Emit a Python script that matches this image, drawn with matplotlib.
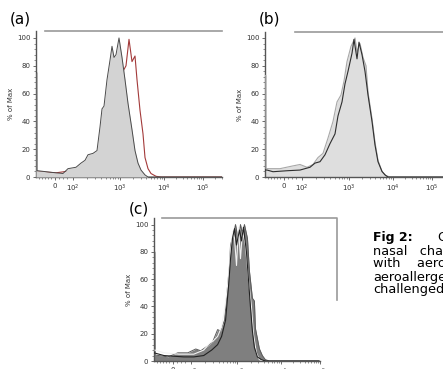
import numpy as np
import matplotlib
matplotlib.use("Agg")
import matplotlib.pyplot as plt
from matplotlib.lines import Line2D

W, H = 443, 369

# ---- data (x = channel offset on the biexponential axis, y = % of Max) ----
tick_pos = [19, 37, 84, 128, 167]
tick_labels = ["0", "10$^2$", "10$^3$", "10$^4$", "10$^5$"]
ytick_vals = [0, 20, 40, 60, 80, 100]

a_fill_x = [0, 0.8, 1, 2, 10, 20, 27, 32, 40, 45, 49, 52, 57, 61, 64, 66, 68, 71, 74, 76, 78, 80,
            83, 86, 89, 92, 96, 99, 102, 105, 109, 112, 186]
a_fill_y = [75, 75, 4.5, 4.5, 3.8, 3, 2.5, 6, 7, 10, 12, 16, 17, 19, 36, 49, 51, 70, 84, 94, 86, 88,
            100, 86, 70, 53, 34, 19, 10, 5, 1.5, 0, 0]
a_red_x = [0, 20, 40, 55, 65, 72, 78, 84, 87, 90, 93, 96, 99, 101, 104, 107, 109, 112, 115, 120, 125, 186]
a_red_y = [4, 3, 5, 10, 20, 35, 50, 65, 76, 80, 99, 83, 87, 70, 48, 31, 14, 6, 2.5, 0.5, 0, 0]

b_fill_x = [0, 0.8, 1, 2, 15, 28, 35, 42, 48, 53, 58, 63, 68, 72, 76, 79, 82, 86, 90, 92, 95, 98,
            101, 103, 107, 110, 113, 117, 121, 125, 178]
b_fill_y = [73, 73, 6, 6, 6, 8, 9, 7, 9, 14, 17, 28, 40, 54, 59, 69, 83, 94, 100, 90, 96, 86,
            80, 61, 42, 25, 12, 4, 1, 0, 0]
b_line_x = [0, 2, 8, 22, 35, 45, 50, 55, 60, 65, 70, 73, 77, 80, 83, 87, 89, 92, 94, 97, 100,
            103, 107, 110, 113, 117, 120, 123, 178]
b_line_y = [5, 5, 3.8, 4.5, 5, 7, 10, 11, 16, 24, 31, 44, 54, 67, 76, 89, 99, 85, 97, 88, 76,
            59, 40, 23, 11, 4, 1.5, 0, 0]

c_fill_x = [0, 0.8, 1, 14, 24, 34, 42, 47, 54, 59, 64, 67, 71, 74, 76, 77, 80, 82, 85, 87, 89,
            91, 94, 96, 99, 101, 102, 106, 109, 112, 116, 166]
c_fill_y = [80, 80, 4.4, 3, 6, 6, 8.8, 7.5, 11, 14, 23, 22, 30, 55, 70, 85, 93, 100, 88, 100, 93,
            100, 90, 66, 46, 44, 24, 9, 4, 1, 0, 0]
c_dark_x = [0, 10, 20, 30, 40, 50, 58, 64, 68, 72, 75, 77, 79, 81, 83, 86, 88, 90, 93, 95, 97,
            99, 101, 104, 108, 112, 166]
c_dark_y = [6, 4, 3.5, 3, 3, 4, 8, 12, 18, 30, 55, 75, 90, 97, 85, 96, 88, 98, 80, 60, 40,
            22, 10, 3, 1, 0, 0]
c_white_x = [1, 10, 25, 40, 50, 56, 60, 64, 68, 71, 74, 77, 79, 81, 83, 85, 87, 89, 92, 95,
             98, 100, 103, 106, 110]
c_white_y = [8, 6, 5, 5, 8, 13, 15, 18, 25, 38, 55, 80, 95, 90, 70, 98, 75, 95, 85, 60,
             40, 20, 6, 1, 0]

caption_title = "Fig 2:"
caption_lines = ["nasal   challenge", "with    aeroallergen", "aeroallergen", "challenged"]

fig = plt.figure(figsize=(W / 100, H / 100), dpi=100)
fig.patch.set_facecolor("white")


def px_axes(x0, x1, y0, y1):
    return fig.add_axes([x0 / W, 1 - y1 / H, (x1 - x0) / W, (y1 - y0) / H])


def style(ax, xmax, ytop):
    ax.set_xlim(0, xmax)
    ax.set_ylim(0, ytop)
    ax.patch.set_alpha(0)
    for s in ("top", "right"):
        ax.spines[s].set_visible(False)
    for s in ("left", "bottom"):
        ax.spines[s].set_color("#555555")
        ax.spines[s].set_linewidth(1.0)
    ax.set_xticks(tick_pos)
    ax.set_xticklabels(tick_labels)
    minor = [3, 6, 9, 12, 15, 23, 27, 31]
    for i in range(1, 4):
        p0, p1 = tick_pos[i], tick_pos[i + 1]
        for k in range(2, 10):
            minor.append(p0 + np.log10(k) * (p1 - p0))
    p0, p1 = tick_pos[3], tick_pos[4]
    for k in range(2, 10):
        v = tick_pos[4] + np.log10(k) * (p1 - p0)
        if v < xmax:
            minor.append(v)
    ax.set_xticks([m for m in minor if m < xmax], minor=True)
    ax.set_yticks(ytick_vals)
    ax.set_yticks(np.arange(0, 101, 4), minor=True)
    ax.tick_params(axis="both", which="major", length=2.5, width=0.6, colors="#555555",
                   labelsize=5, labelcolor="#333333", pad=1.5)
    ax.tick_params(axis="both", which="minor", length=1.5, width=0.5, colors="#666666")
    ax.set_ylabel("% of Max", fontsize=5, color="#333333", labelpad=2)


# panel (a)
axa = px_axes(36, 222, 31, 177)
axa.plot(a_red_x, a_red_y, color="#a33a3a", lw=0.8, zorder=2)
axa.fill_between(a_fill_x, a_fill_y, color="#d3d3d3", zorder=3, lw=0)
axa.plot(a_fill_x, a_fill_y, color="#4a4a4a", lw=0.7, zorder=4)
style(axa, 186, 105)

# panel (b)
axb = px_axes(265, 443, 32, 177)
axb.fill_between(b_fill_x, b_fill_y, color="#dedede", zorder=2, lw=0)
axb.plot(b_fill_x, b_fill_y, color="#a8a8a8", lw=0.8, zorder=3)
axb.plot(b_line_x, b_line_y, color="#2e2e2e", lw=0.8, zorder=4)
style(axb, 178, 104.3)

# panel (c)
axc = px_axes(154, 320, 218, 361)
axc.fill_between(c_fill_x, c_fill_y, color="#7f7f7f", zorder=2, lw=0)
axc.plot(c_fill_x, c_fill_y, color="#5a5a5a", lw=0.7, zorder=3)
axc.plot(c_white_x, c_white_y, color="#f2f2f2", lw=0.8, zorder=4)
axc.plot(c_dark_x, c_dark_y, color="#222222", lw=0.8, zorder=5)
style(axc, 166, 104.8)


# image border lines
def fig_line(xs, ys, color="#9a9a9a", lw=1.2):
    fig.add_artist(Line2D([x / W for x in xs], [1 - y / H for y in ys], color=color, lw=lw))


fig_line([45, 222], [31, 31])
fig_line([295, 443], [32, 32])
fig_line([162, 337, 337], [218, 218, 300])

# panel labels
fig.text(20 / W, 1 - 19 / H, "(a)", fontsize=11, ha="center", va="center")
fig.text(270 / W, 1 - 19 / H, "(b)", fontsize=11, ha="center", va="center")
fig.text(139 / W, 1 - 209 / H, "(c)", fontsize=11, ha="center", va="center")

# caption (cropped at the right edge)
cx = 373 / W
fig.text(cx, 1 - 238 / H, caption_title, fontsize=9, fontweight="bold", ha="left", va="center")
fig.text(437 / W, 1 - 238 / H, "C", fontsize=9, ha="left", va="center")
for i, line in enumerate(caption_lines):
    fig.text(cx, 1 - (251 + i * 13) / H, line, fontsize=9.3, ha="left", va="center")

fig.savefig("out.png", dpi=100)
